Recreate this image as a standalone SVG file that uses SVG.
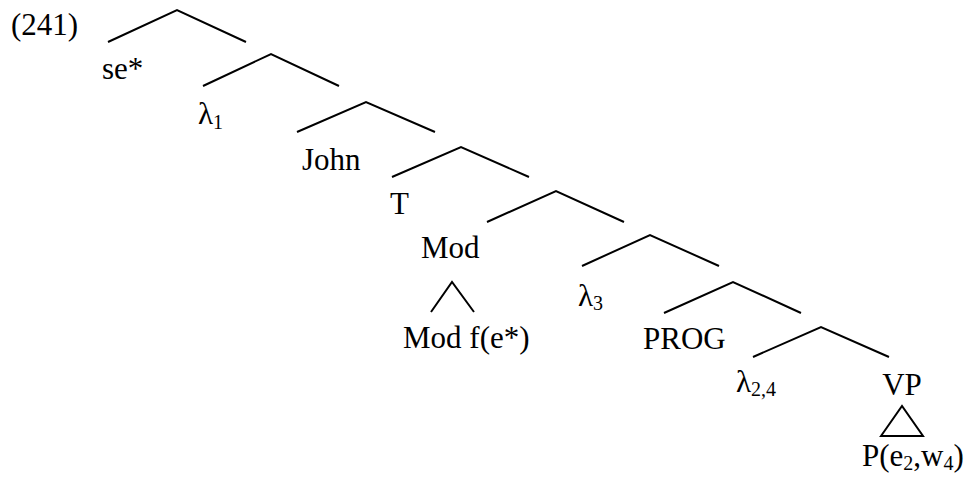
<svg xmlns="http://www.w3.org/2000/svg" width="968" height="480" viewBox="0 0 968 480">
<style>
  .t { font-family: "Liberation Serif", "Times New Roman", serif; font-size: 31px; fill: #000; }
  .s { font-size: 20px; }
  .e { fill: none; stroke: #000; stroke-width: 2; stroke-linecap: butt; stroke-linejoin: miter; }
</style>
<rect width="968" height="480" fill="#fff"/>
<g id="label"><text class="t" x="11" y="35">(241)</text></g>
<g id="connectors">
  <polyline class="e" points="108,42 177,10 246,42"/>
  <polyline class="e" points="203,86 271,54 339,86"/>
  <polyline class="e" points="297,132 366,102 435,132"/>
  <polyline class="e" points="392,177 461,147 529,177"/>
  <polyline class="e" points="487,222 556,191 624,222"/>
  <polyline class="e" points="582,266 650,235 719,266"/>
  <polyline class="e" points="664,313 733,282 801,313"/>
  <polyline class="e" points="753,357 821,327 889,357"/>
  <polyline class="e" points="431,312 452,282 474,312"/>
  <polygon class="e" points="881,436 902,406 923,436"/>
</g>
<g id="n-se"><text class="t" x="102" y="79">se*</text></g>
<g id="n-l1"><text class="t" x="198" y="124">λ<tspan class="s" dy="5">1</tspan></text></g>
<g id="n-john"><text class="t" x="302" y="170">John</text></g>
<g id="n-T"><text class="t" x="390" y="214">T</text></g>
<g id="n-mod"><text class="t" x="421" y="258">Mod</text></g>
<g id="n-modf"><text class="t" x="403" y="348">Mod f(e*)</text></g>
<g id="n-l3"><text class="t" x="578" y="306">λ<tspan class="s" dy="4">3</tspan></text></g>
<g id="n-prog"><text class="t" x="643" y="349">PROG</text></g>
<g id="n-l24"><text class="t" x="736" y="392">λ<tspan class="s" dy="4">2,4</tspan></text></g>
<g id="n-vp"><text class="t" x="902" y="395" text-anchor="middle">VP</text></g>
<g id="n-p"><text class="t" x="862" y="466">P(e<tspan class="s" dy="4">2</tspan><tspan dy="-4">,w</tspan><tspan class="s" dy="4">4</tspan><tspan dy="-4">)</tspan></text></g>
</svg>
